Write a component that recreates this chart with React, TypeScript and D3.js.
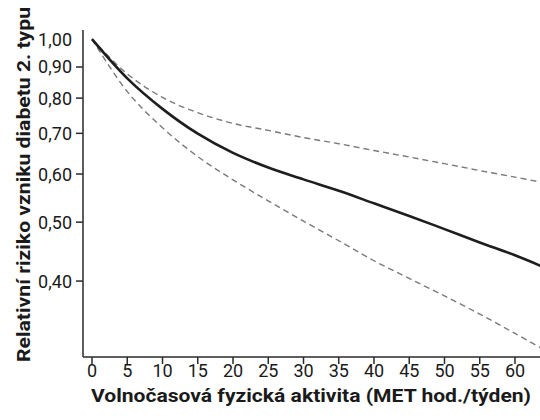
import * as d3 from "d3";
import React from "react";

// MET hod./týden
const activity = [0, 5, 10, 15, 20, 25, 30, 35, 40, 45, 50, 55, 60, 64];
// relativní riziko (bodový odhad) a 95% interval spolehlivosti
const riskEstimate = [1.0, 0.862, 0.768, 0.699, 0.65, 0.615, 0.588, 0.563, 0.537, 0.512, 0.487, 0.463, 0.441, 0.422];
const riskUpper = [1.0, 0.877, 0.802, 0.757, 0.727, 0.708, 0.689, 0.673, 0.656, 0.64, 0.624, 0.608, 0.593, 0.581];
const riskLower = [1.0, 0.82, 0.715, 0.641, 0.587, 0.542, 0.502, 0.466, 0.432, 0.404, 0.378, 0.353, 0.328, 0.309];

const xTicks = [0, 5, 10, 15, 20, 25, 30, 35, 40, 45, 50, 55, 60];
const yTicks = [1.0, 0.9, 0.8, 0.7, 0.6, 0.5, 0.4];

const xTitle = "Volnočasová fyzická aktivita (MET hod./týden)";
const yTitle = "Relativní riziko vzniku diabetu 2. typu";

export default function App() {
  const width = 540;
  const height = 420;
  const axisX = 83;
  const axisY = 357;

  const x = d3.scaleLinear().domain([0, 60]).range([92, 515]);
  const y = d3.scaleLog().domain([0.3, 1]).range([357, 39.2]);

  const line = (vals: number[]) =>
    d3
      .line<number>()
      .x((_, i) => x(activity[i]))
      .y((d) => y(d))
      .curve(d3.curveCatmullRom.alpha(0.5))(vals) || "";

  const fmt = (v: number) => v.toFixed(2).replace(".", ",");
  const font = "Roboto, 'DejaVu Sans', sans-serif";

  return (
    <svg
      width={width}
      height={height}
      style={{ position: "absolute", left: 0, top: 0, background: "#fff" }}
      fontFamily={font}
    >
      {/* curves */}
      <path d={line(riskUpper)} fill="none" stroke="#7a7a7a" strokeWidth={1.4} strokeDasharray="6,4" />
      <path d={line(riskLower)} fill="none" stroke="#7a7a7a" strokeWidth={1.4} strokeDasharray="6,4" />
      <path d={line(riskEstimate)} fill="none" stroke="#1e1e1e" strokeWidth={2.6} />

      {/* axes */}
      <line x1={axisX} x2={axisX} y1={y(1.035)} y2={axisY} stroke="#2a2a2a" strokeWidth={1.5} />
      <line x1={axisX} x2={width} y1={axisY} y2={axisY} stroke="#2a2a2a" strokeWidth={1.5} />

      {yTicks.map((t) => (
        <g key={t} transform={`translate(0,${y(t)})`}>
          {t < 1 && <line x1={axisX - 7} x2={axisX} stroke="#2a2a2a" strokeWidth={1.5} />}
          <text x={72} dy="0.36em" textAnchor="end" fontSize={18} fill="#1a1a1a">
            {fmt(t)}
          </text>
        </g>
      ))}

      {xTicks.map((t) => (
        <g key={t} transform={`translate(${x(t)},0)`}>
          <line y1={axisY} y2={axisY + 7} stroke="#2a2a2a" strokeWidth={1.5} />
          <text y={377} textAnchor="middle" fontSize={18} fill="#1a1a1a">
            {t}
          </text>
        </g>
      ))}

      <text
        x={311}
        y={402}
        textAnchor="middle"
        fontSize={19}
        fontWeight="bold"
        fill="#1a1a1a"
        textLength={440}
        lengthAdjust="spacingAndGlyphs"
      >
        {xTitle}
      </text>
      <text
        transform="translate(30,184.5) rotate(-90)"
        textAnchor="middle"
        fontSize={19}
        fontWeight="bold"
        fill="#1a1a1a"
        textLength={355}
        lengthAdjust="spacingAndGlyphs"
      >
        {yTitle}
      </text>
    </svg>
  );
}
